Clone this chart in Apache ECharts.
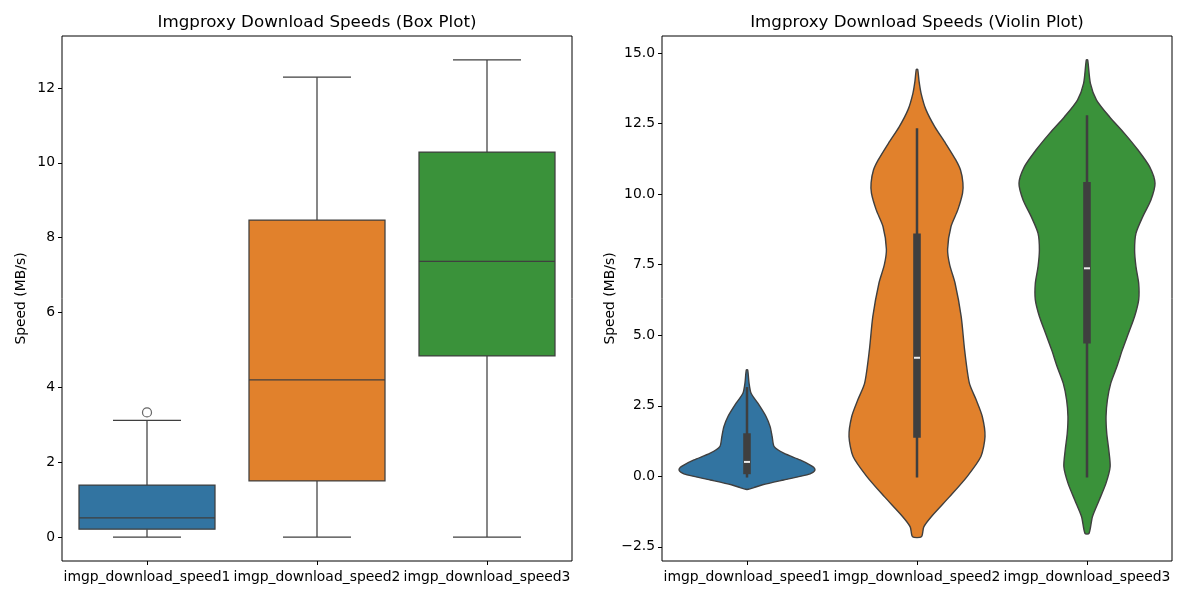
<!DOCTYPE html>
<html>
<head>
<meta charset="utf-8">
<title>Imgproxy Download Speeds</title>
<script src="https://cdn.jsdelivr.net/npm/echarts@6/dist/echarts.min.js"></script>
<style>
  body, html { margin: 0; background: #fff; }
  #main { width: 1200px; height: 600px; }
</style>
</head>
<body>
<div id="main"></div>
<script>
// categories shared by both panels
var categories = ['imgp_download_speed1', 'imgp_download_speed2', 'imgp_download_speed3'];
var colors = ['#3274a1', '#e1812c', '#3a923a'];

// box stats: [min, q1, median, q3, max]
var stats1 = [0, 0.21, 0.51, 1.39, 3.12];
var stats2 = [0, 1.50, 4.20, 8.47, 12.29];
var stats3 = [0, 4.84, 7.37, 10.29, 12.75];
var outliers1 = [3.33];

// violin outlines: speed along the axis and relative half width (1 = full)
var kdeSpeed1 = [-0.46, -0.40, -0.30, -0.13, 0.05, 0.14, 0.23, 0.32, 0.40, 0.58, 0.82, 1.05, 1.41, 1.76, 2.12, 2.59, 2.94, 3.30, 3.77];
var kdeWidth1 = [0.02, 0.10, 0.23, 0.54, 0.88, 0.97, 1.00, 0.98, 0.93, 0.78, 0.54, 0.40, 0.37, 0.34, 0.28, 0.16, 0.06, 0.03, 0.01];

var kdeSpeed2 = [-2.14, -1.79, -1.43, -0.72, 0.00, 0.70, 1.41, 2.12, 2.71, 3.30, 4.48, 5.66, 6.84, 7.50, 8.05, 8.85, 9.44, 10.03, 10.40, 10.85, 11.21, 11.80, 12.39, 13.00, 13.57, 14.00, 14.42];
var kdeWidth2 = [0.065, 0.10, 0.21, 0.48, 0.74, 0.94, 1.00, 0.96, 0.87, 0.77, 0.70, 0.65, 0.56, 0.48, 0.45, 0.50, 0.60, 0.67, 0.675, 0.64, 0.57, 0.42, 0.26, 0.13, 0.06, 0.03, 0.01];

var kdeSpeed3 = [-2.02, -1.43, -0.84, -0.24, 0.34, 0.94, 1.53, 2.12, 2.71, 3.30, 3.89, 4.48, 5.07, 5.66, 6.25, 6.84, 7.43, 8.02, 8.61, 9.20, 9.79, 10.38, 10.97, 11.56, 12.15, 12.74, 13.33, 13.92, 14.75];
var kdeWidth3 = [0.03, 0.08, 0.18, 0.28, 0.34, 0.32, 0.29, 0.28, 0.30, 0.35, 0.44, 0.52, 0.61, 0.70, 0.76, 0.76, 0.72, 0.70, 0.72, 0.82, 0.94, 1.00, 0.92, 0.75, 0.55, 0.33, 0.14, 0.05, 0.01];

var leftTicks = [0, 2, 4, 6, 8, 10, 12];
var rightTicks = [-2.5, 0, 2.5, 5, 7.5, 10, 12.5, 15];

var allStats = [stats1, stats2, stats3];
var kdeSpeeds = [kdeSpeed1, kdeSpeed2, kdeSpeed3];
var kdeWidths = [kdeWidth1, kdeWidth2, kdeWidth3];

var FONT = 'DejaVu Sans';
var LINE = '#3f3f3f';

var boxData = allStats.map(function (s, i) { return [i].concat(s); });
var outlierData = outliers1.map(function (v) { return [0, v]; });
var violinData = categories.map(function (c, i) { return [i, allStats[i][2]]; });

function renderBox(params, api) {
  var cat = api.value(0);
  var band = api.size([1, 0])[0];
  var bw = band * 0.8;
  var x = api.coord([cat, 0])[0];
  var yMin = api.coord([cat, api.value(1)])[1];
  var yQ1 = api.coord([cat, api.value(2)])[1];
  var yMed = api.coord([cat, api.value(3)])[1];
  var yQ3 = api.coord([cat, api.value(4)])[1];
  var yMax = api.coord([cat, api.value(5)])[1];
  var ls = { stroke: LINE, lineWidth: 1.25 };
  return {
    type: 'group',
    children: [
      { type: 'line', shape: { x1: x, y1: yQ3, x2: x, y2: yMax }, style: ls },
      { type: 'line', shape: { x1: x, y1: yQ1, x2: x, y2: yMin }, style: ls },
      { type: 'line', shape: { x1: x - bw / 4, y1: yMax, x2: x + bw / 4, y2: yMax }, style: ls },
      { type: 'line', shape: { x1: x - bw / 4, y1: yMin, x2: x + bw / 4, y2: yMin }, style: ls },
      { type: 'rect', shape: { x: x - bw / 2, y: yQ3, width: bw, height: yQ1 - yQ3 },
        style: { fill: colors[cat], stroke: LINE, lineWidth: 1.25 } },
      { type: 'line', shape: { x1: x - bw / 2, y1: yMed, x2: x + bw / 2, y2: yMed }, style: ls }
    ]
  };
}

function renderViolin(params, api) {
  var cat = api.value(0);
  var half = api.size([1, 0])[0] * 0.4;
  var sp = kdeSpeeds[cat], wd = kdeWidths[cat], st = allStats[cat];
  var right = [], left = [];
  for (var i = 0; i < sp.length; i++) {
    var c = api.coord([cat, sp[i]]);
    right.push([c[0] + wd[i] * half, c[1]]);
    left.unshift([c[0] - wd[i] * half, c[1]]);
  }
  var x = api.coord([cat, 0])[0];
  var yMin = api.coord([cat, st[0]])[1];
  var yQ1 = api.coord([cat, st[1]])[1];
  var yMed = api.coord([cat, st[2]])[1];
  var yQ3 = api.coord([cat, st[3]])[1];
  var yMax = api.coord([cat, st[4]])[1];
  return {
    type: 'group',
    children: [
      { type: 'polygon', shape: { points: right.concat(left), smooth: 0.25 },
        style: { fill: colors[cat], stroke: LINE, lineWidth: 1.4 } },
      { type: 'line', shape: { x1: x, y1: yMin + 1.2, x2: x, y2: yMax - 1.2 },
        style: { stroke: LINE, lineWidth: 2.5 } },
      { type: 'rect', shape: { x: x - 3.8, y: yQ3 - 3.8, width: 7.6, height: yQ1 - yQ3 + 7.6 },
        style: { fill: LINE } },
      { type: 'rect', shape: { x: x - 3, y: yMed - 1, width: 6, height: 2 },
        style: { fill: '#ececec' } }
    ]
  };
}

function fmtMinus(v) {
  return String(v).replace('-', '\u2212');
}

var axisText = { color: '#000', fontSize: 13.9, fontFamily: FONT };

function xAxisFor(gi) {
  return {
    type: 'category', gridIndex: gi, data: categories,
    axisLine: { show: false, onZero: false },
    axisTick: { show: true, alignWithLabel: true, length: 4, lineStyle: { color: '#000', width: 1 } },
    axisLabel: Object.assign({ margin: 9, interval: 0 }, axisText),
    splitLine: { show: false }
  };
}

function yAxisFor(gi, min, max, ticks, gap, fmt) {
  return {
    type: 'value', gridIndex: gi, min: min, max: max,
    name: 'Speed (MB/s)', nameLocation: 'middle', nameGap: gap,
    nameTextStyle: axisText,
    axisLine: { show: false, onZero: false },
    axisTick: { show: true, length: 4, customValues: ticks, lineStyle: { color: '#000', width: 1 } },
    axisLabel: Object.assign({ margin: 7, customValues: ticks, formatter: fmt }, axisText),
    splitLine: { show: false }
  };
}

var chart = echarts.init(document.getElementById('main'), null, { renderer: 'canvas' });
chart.setOption({
  animation: false,
  backgroundColor: '#fff',
  graphic: [
    { type: 'text', x: 317, y: 23, style: { text: 'Imgproxy Download Speeds (Box Plot)', fontSize: 16.7, fontFamily: FONT, fill: '#000', align: 'center', verticalAlign: 'middle' } },
    { type: 'text', x: 917, y: 23, style: { text: 'Imgproxy Download Speeds (Violin Plot)', fontSize: 16.7, fontFamily: FONT, fill: '#000', align: 'center', verticalAlign: 'middle' } }
  ],
  grid: [
    { left: 62, right: 628, top: 36, bottom: 39, show: true, borderColor: '#000', borderWidth: 1, backgroundColor: 'transparent' },
    { left: 662, right: 28, top: 36, bottom: 39, show: true, borderColor: '#000', borderWidth: 1, backgroundColor: 'transparent' }
  ],
  xAxis: [xAxisFor(0), xAxisFor(1)],
  yAxis: [
    yAxisFor(0, -0.64, 13.39, leftTicks, 34, function (v) { return fmtMinus(v); }),
    yAxisFor(1, -3.0, 15.6, rightTicks, 45, function (v) { return fmtMinus(v.toFixed(1)); })
  ],
  series: [
    { type: 'custom', xAxisIndex: 0, yAxisIndex: 0, renderItem: renderBox, data: boxData,
      encode: { x: 0, y: [1, 2, 3, 4, 5] }, silent: true },
    { type: 'scatter', xAxisIndex: 0, yAxisIndex: 0, data: outlierData, symbol: 'circle', symbolSize: 9,
      itemStyle: { color: 'rgba(0,0,0,0)', borderColor: LINE, borderWidth: 1.2 }, silent: true },
    { type: 'custom', xAxisIndex: 1, yAxisIndex: 1, renderItem: renderViolin, data: violinData,
      encode: { x: 0, y: 1 }, silent: true }
  ]
});
</script>
</body>
</html>
